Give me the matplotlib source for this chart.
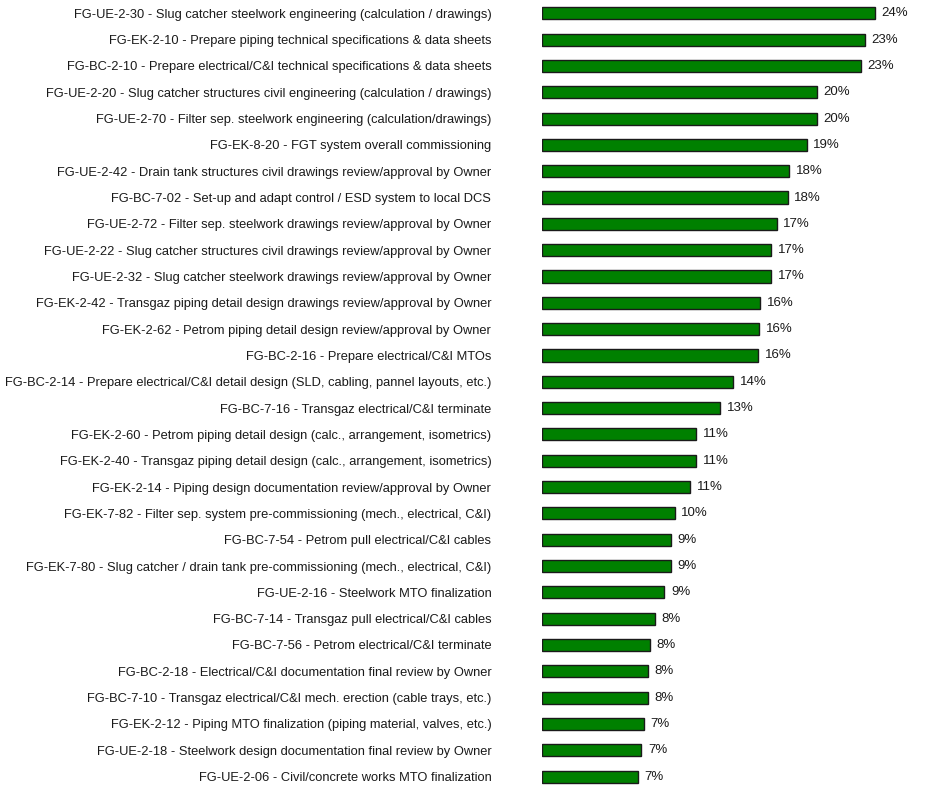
import matplotlib
matplotlib.use("Agg")
import matplotlib.pyplot as plt
from matplotlib import font_manager

tasks = [
    "FG-UE-2-30 - Slug catcher steelwork engineering (calculation / drawings)",
    "FG-EK-2-10 - Prepare piping technical specifications & data sheets",
    "FG-BC-2-10 - Prepare electrical/C&I technical specifications & data sheets",
    "FG-UE-2-20 - Slug catcher structures civil engineering (calculation / drawings)",
    "FG-UE-2-70 - Filter sep. steelwork engineering (calculation/drawings)",
    "FG-EK-8-20 - FGT system overall commissioning",
    "FG-UE-2-42 - Drain tank structures civil drawings review/approval by Owner",
    "FG-BC-7-02 - Set-up and adapt control / ESD system to local DCS",
    "FG-UE-2-72 - Filter sep. steelwork drawings review/approval by Owner",
    "FG-UE-2-22 - Slug catcher structures civil drawings review/approval by Owner",
    "FG-UE-2-32 - Slug catcher steelwork drawings review/approval by Owner",
    "FG-EK-2-42 - Transgaz piping detail design drawings review/approval by Owner",
    "FG-EK-2-62 - Petrom piping detail design review/approval by Owner",
    "FG-BC-2-16 - Prepare electrical/C&I MTOs",
    "FG-BC-2-14 - Prepare electrical/C&I detail design (SLD, cabling, pannel layouts, etc.)",
    "FG-BC-7-16 - Transgaz electrical/C&I terminate",
    "FG-EK-2-60 - Petrom piping detail design (calc., arrangement, isometrics)",
    "FG-EK-2-40 - Transgaz piping detail design (calc., arrangement, isometrics)",
    "FG-EK-2-14 - Piping design documentation review/approval by Owner",
    "FG-EK-7-82 - Filter sep. system pre-commissioning (mech., electrical, C&I)",
    "FG-BC-7-54 - Petrom pull electrical/C&I cables",
    "FG-EK-7-80 - Slug catcher / drain tank pre-commissioning (mech., electrical, C&I)",
    "FG-UE-2-16 - Steelwork MTO finalization",
    "FG-BC-7-14 - Transgaz pull electrical/C&I cables",
    "FG-BC-7-56 - Petrom electrical/C&I terminate",
    "FG-BC-2-18 - Electrical/C&I documentation final review by Owner",
    "FG-BC-7-10 - Transgaz electrical/C&I mech. erection (cable trays, etc.)",
    "FG-EK-2-12 - Piping MTO finalization (piping material, valves, etc.)",
    "FG-UE-2-18 - Steelwork design documentation final review by Owner",
    "FG-UE-2-06 - Civil/concrete works MTO finalization",
]

percent = [24.2, 23.47, 23.18, 19.96, 19.96, 19.23, 17.94, 17.85, 17.05, 16.65,
           16.65, 15.83, 15.78, 15.71, 13.89, 12.92, 11.18, 11.18, 10.74, 9.63,
           9.34, 9.34, 8.87, 8.2, 7.83, 7.66, 7.66, 7.37, 7.2, 6.94]

available = {f.name for f in font_manager.fontManager.ttflist}
fam = ["Liberation Sans Narrow", "Liberation Sans", "DejaVu Sans"]
fam = [f for f in fam if f in available] or ["DejaVu Sans"]
plt.rcParams["font.family"] = fam

W, H = 925, 785
fig = plt.figure(figsize=(W / 100, H / 100), dpi=100)
left_px = 542.3
right_px = 915
ax = fig.add_axes([left_px / W, 0, (right_px - left_px) / W, 1])

n = len(tasks)
ypos = list(range(n))
ax.barh(ypos, percent, height=0.46, color="#008000", edgecolor="#1a1a1a",
        linewidth=1.0, zorder=2)

scale = 13.75  # px per percent
ax.set_xlim(0, (right_px - left_px) / scale)
top_c, step = 13.3, 26.32
ax.set_ylim(29 + (H - (top_c + 29 * step)) / step, -top_c / step)

for y, v in zip(ypos, percent):
    ax.annotate(f"{round(v)}%", xy=(v, y), xytext=(4.8, 0), textcoords="offset points",
                va="center", ha="left", fontsize=9.5, color="#1a1a1a")

ax.set_yticks(ypos)
ax.set_yticklabels(tasks, fontsize=9.3, color="#1a1a1a")
ax.tick_params(axis="y", length=0, pad=36.7)
ax.set_xticks([])
for s in ax.spines.values():
    s.set_visible(False)

fig.savefig("out.png", dpi=100)
